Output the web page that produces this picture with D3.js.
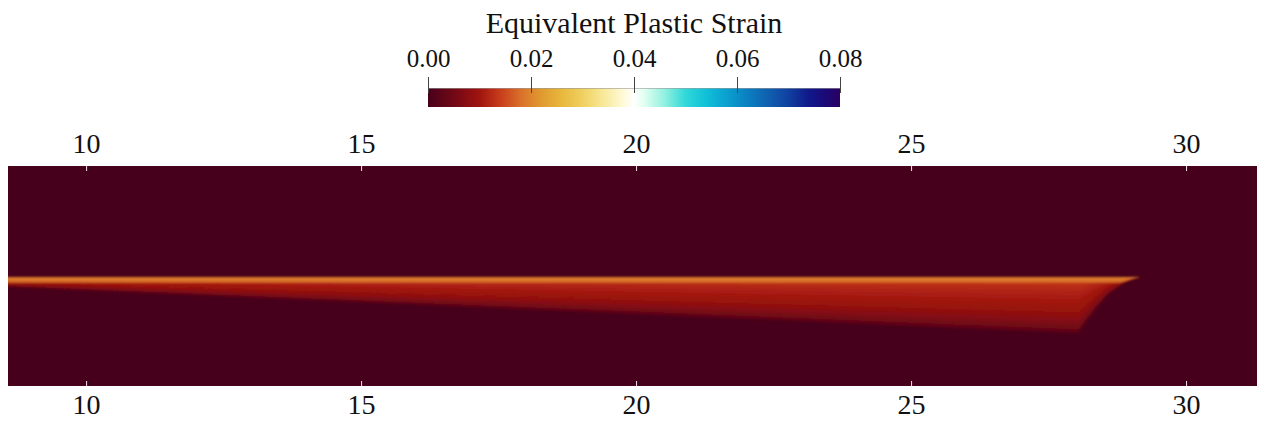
<!DOCTYPE html>
<html><head><meta charset="utf-8">
<script src="https://cdn.jsdelivr.net/npm/d3@7"></script>
<style>
html,body{margin:0;padding:0;background:#fff;}
svg{display:block;font-family:"Liberation Serif",serif;}
</style></head>
<body><svg id="chart" width="1265" height="426"></svg>
<script>
// ---- data ----
const title = "Equivalent Plastic Strain";
const xTicks = [10, 15, 20, 25, 30];
const cbTicks = [0.00, 0.02, 0.04, 0.06, 0.08];
const cbTickLabels = ["0.00", "0.02", "0.04", "0.06", "0.08"];
// colormap stops (strain value -> colour)
const cmapValues = [0.000, 0.006, 0.010, 0.014, 0.018, 0.022, 0.026, 0.030, 0.034, 0.038, 0.040, 0.042, 0.046, 0.050, 0.054, 0.058, 0.062, 0.066, 0.070, 0.074, 0.077, 0.080];
const cmapColors = ["#47001b", "#7a0a14", "#a0140f", "#c83c1c", "#d9702a", "#e09a30", "#e8b83c", "#f0d060", "#f8e898", "#fffad8", "#ffffff", "#e0fff0", "#90f0e0", "#30d8d8", "#10c0d8", "#0aa0d0", "#0a80c0", "#1060b0", "#1040a0", "#10188a", "#1a0a78", "#2a0060"];
// damage-zone lower boundary (x, depth below crack line)
const zoneX = [8.58, 12, 16, 20, 24, 28.04];
const zoneDepth = [0.091, 0.164, 0.250, 0.336, 0.422, 0.509];
// curved front (x, depth), from bottom up to tip
const frontX = [28.04, 28.35, 28.58, 28.84, 29.00, 29.16];
const frontDepth = [0.509, 0.30, 0.16, 0.07, 0.025, 0.0];
// nested layers inside zone: fraction of depth and strain value
const layerFrac = [1.0, 0.94, 0.87, 0.80, 0.72, 0.64, 0.56, 0.48, 0.40, 0.32, 0.24, 0.16, 0.09];
const layerStrain = [0.003, 0.0048, 0.0062, 0.0074, 0.0083, 0.0090, 0.0096, 0.0102, 0.0108, 0.0114, 0.0121, 0.0130, 0.0142];
// bright band along the crack line
const bandX = [8.58, 28.80, 29.16];
const bandDepth = [0.05, 0.05, 0.0];
const bandStrain = 0.0182;
const xDomain = [8.58, 31.29];
const yDomain = [-0.99, 1.01];

// ---- layout ----
const svg = d3.select("#chart");
const plot = {left: 8, right: 1257, top: 166, bottom: 386};
const x = d3.scaleLinear().domain(xDomain).range([plot.left, plot.right]);
const y = d3.scaleLinear().domain(yDomain).range([plot.bottom, plot.top]);
const cmap = d3.scaleLinear().domain(cmapValues).range(cmapColors).clamp(true);

const defs = svg.append("defs");
defs.append("clipPath").attr("id", "clip").append("rect")
  .attr("x", plot.left).attr("y", plot.top)
  .attr("width", plot.right - plot.left).attr("height", plot.bottom - plot.top);
defs.append("filter").attr("id", "soft").attr("x", "-5%").attr("y", "-50%").attr("width", "110%").attr("height", "200%")
  .append("feGaussianBlur").attr("stdDeviation", 1.3);

// background field
const field = svg.append("g").attr("clip-path", "url(#clip)");
field.append("rect")
  .attr("x", plot.left).attr("y", plot.top)
  .attr("width", plot.right - plot.left).attr("height", plot.bottom - plot.top)
  .attr("fill", cmap(0));

const inner = field.append("g").attr("filter", "url(#soft)");
const line = d3.line().x(d => x(d[0])).y(d => y(d[1])).curve(d3.curveLinearClosed);

layerFrac.forEach((f, i) => {
  const pts = [];
  pts.push([zoneX[0] - 0.3, 0]);
  pts.push([frontX[frontX.length - 1], 0]);
  for (let k = frontX.length - 1; k >= 0; k--) pts.push([frontX[k], -frontDepth[k] * f]);
  for (let k = zoneX.length - 1; k >= 0; k--) pts.push([zoneX[k], -zoneDepth[k] * f]);
  pts.push([zoneX[0] - 0.3, -zoneDepth[0] * f]);
  inner.append("path").attr("d", line(pts)).attr("fill", cmap(layerStrain[i]));
});

const bandPts = [[bandX[0] - 0.3, 0], [bandX[bandX.length - 1], 0]];
for (let k = bandX.length - 1; k >= 0; k--) bandPts.push([bandX[k], -bandDepth[k]]);
bandPts.push([bandX[0] - 0.3, -bandDepth[0]]);
inner.append("path").attr("d", line(bandPts)).attr("fill", cmap(bandStrain));
const topPts = [[bandX[0] - 0.3, 0], [bandX[bandX.length - 1], 0], [bandX[1], -0.02], [bandX[0] - 0.3, -0.02]];
inner.append("path").attr("d", line(topPts)).attr("fill", cmap(0.020)).attr("opacity", 0.5);

// axes
function styleAxis(g) {
  g.select(".domain").remove();
  g.selectAll(".tick line").attr("stroke", "#e8e8e8").attr("stroke-width", 1);
  g.selectAll(".tick text").attr("fill", "#111").style("font-size", "28px").style("font-family", "Liberation Serif");
}
svg.append("g").attr("transform", `translate(0,${plot.top})`)
  .call(d3.axisTop(x).tickValues(xTicks).tickFormat(d3.format("d")).tickSize(-5).tickPadding(13))
  .call(styleAxis);
svg.append("g").attr("transform", `translate(0,${plot.bottom})`)
  .call(d3.axisBottom(x).tickValues(xTicks).tickFormat(d3.format("d")).tickSize(-5).tickPadding(8))
  .call(styleAxis);

// colour bar
const cb = {left: 428, right: 840, top: 88, bottom: 107};
const cbScale = d3.scaleLinear().domain([0, 0.08]).range([cb.left, cb.right]);
const grad = defs.append("linearGradient").attr("id", "cbgrad")
  .attr("x1", "0%").attr("x2", "100%").attr("y1", "0%").attr("y2", "0%");
cmapValues.forEach((v, i) => grad.append("stop").attr("offset", (v / 0.08 * 100) + "%").attr("stop-color", cmapColors[i]));
svg.append("rect").attr("x", cb.left).attr("y", cb.top)
  .attr("width", cb.right - cb.left).attr("height", cb.bottom - cb.top).attr("fill", "url(#cbgrad)");
svg.append("line").attr("x1", cb.left).attr("x2", cb.right).attr("y1", cb.top + 0.5).attr("y2", cb.top + 0.5)
  .attr("stroke", "#999").attr("stroke-opacity", 0.6);
const cbAxis = svg.append("g").attr("transform", `translate(0,${cb.top + 5})`)
  .call(d3.axisTop(cbScale).tickValues(cbTicks).tickFormat((d, i) => cbTickLabels[i]).tickSize(16).tickPadding(10));
cbAxis.select(".domain").remove();
cbAxis.selectAll(".tick line").attr("stroke", "#444").attr("stroke-width", 1);
cbAxis.selectAll(".tick text").attr("fill", "#111").style("font-size", "25px").style("font-family", "Liberation Serif");

svg.append("text").attr("x", (cb.left + cb.right) / 2).attr("y", 33)
  .attr("text-anchor", "middle").attr("fill", "#111")
  .style("font-size", "30px").style("font-family", "Liberation Serif")
  .text(title);
</script></body></html>
